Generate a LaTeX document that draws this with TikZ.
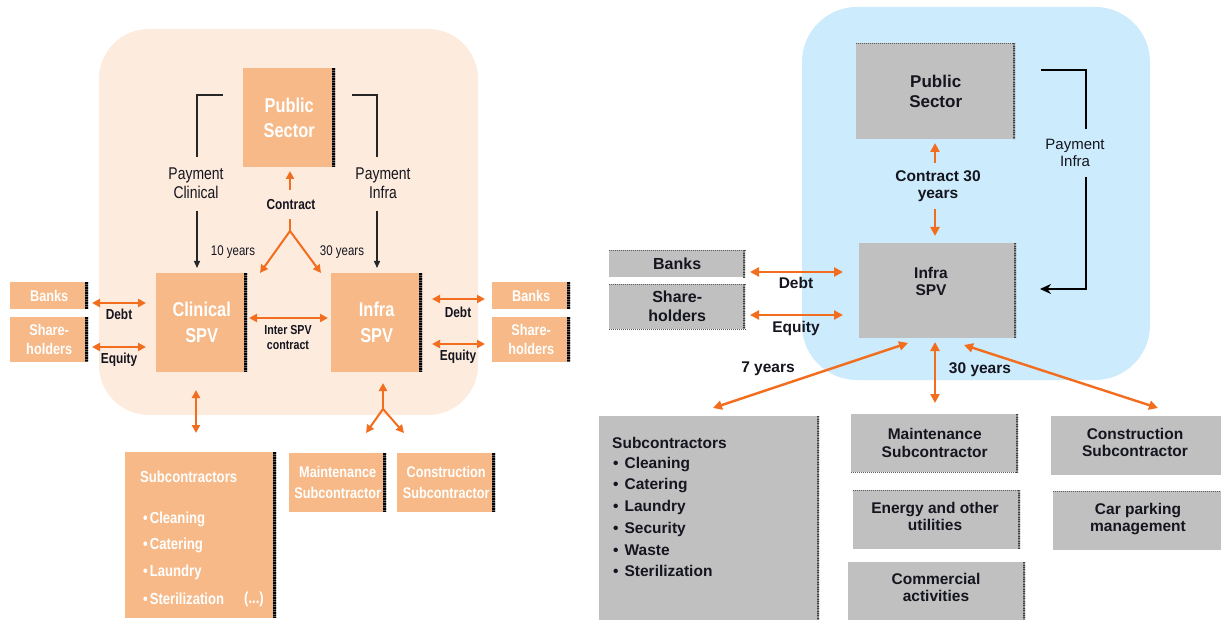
\documentclass[tikz,border=0pt]{standalone}
\usepackage{fontspec}
\setmainfont{Liberation Sans}
\newfontfamily\nfont[FakeStretch=0.82]{Liberation Sans}
\usetikzlibrary{arrows.meta}
\definecolor{peachbg}{HTML}{FDEBDD}
\definecolor{peachbox}{HTML}{F6B987}
\definecolor{oline}{HTML}{F26E1E}
\definecolor{bluebg}{HTML}{CCEBFC}
\definecolor{graybox}{HTML}{C0C0C0}
\definecolor{textdark}{HTML}{15151F}
\newcommand{\fsz}[2]{\fontsize{#1}{#2}\selectfont}
\tikzset{
  x=1pt, y=-1pt,
  obox/.style={fill=peachbox, anchor=north west, inner sep=0pt, align=center,
    text=white, font=\nfont\bfseries,
    path picture={
      \draw[black!65, line width=6pt] (path picture bounding box.north east) -- (path picture bounding box.south east);
      \draw[black, line width=6pt, dash pattern=on 1.5pt off 1pt] (path picture bounding box.north east) -- (path picture bounding box.south east);}},
  gbox/.style={fill=graybox, anchor=north west, inner sep=0pt, align=center,
    text=textdark, font=\bfseries,
    path picture={
      \draw[black!45, line width=5pt] (path picture bounding box.north east) -- (path picture bounding box.south east);
      \draw[black!75, line width=5pt, dash pattern=on 0.8pt off 1.6pt] (path picture bounding box.north east) -- (path picture bounding box.south east);}},
  dotl/.style={draw=black!65, line width=0.9pt, dash pattern=on 1pt off 1pt},
  otip/.tip={Triangle[length=8pt,width=8pt]},
  oarr/.style={draw=oline, line width=2pt, -otip},
  oarrb/.style={draw=oline, line width=2pt, otip-otip},
  rarr/.style={draw=oline, line width=2.4pt, -{Triangle[length=9pt,width=9pt]}},
  rarrb/.style={draw=oline, line width=2.4pt, {Triangle[length=9pt,width=9pt]}-{Triangle[length=9pt,width=9pt]}},
  oseg/.style={draw=oline, line width=2pt},
  bline/.style={draw=black!85, line width=1.4pt},
  barr/.style={draw=black!85, line width=1.4pt, -{Triangle[length=7pt,width=6pt]}},
  rbline/.style={draw=black, line width=2.2pt},
  rbarr/.style={draw=black, line width=2.2pt, -{Stealth[length=11pt,width=10pt]}},
  nlab/.style={text=textdark, inner sep=0pt, align=center, font=\nfont\bfseries\fsz{14.5}{17}},
  nreg/.style={text=textdark, inner sep=0pt, align=center, font=\nfont\fsz{17}{19}},
  rlab/.style={text=textdark, inner sep=0pt, align=center, font=\bfseries\fsz{15.5}{17}},
  wtxt/.style={text=white, inner sep=0pt, anchor=west, font=\nfont\bfseries\fsz{16}{18}},
  dtxt/.style={text=textdark, inner sep=0pt, anchor=west, font=\bfseries\fsz{15.5}{17}},
}
\begin{document}
\begin{tikzpicture}
\useasboundingbox (0,0) rectangle (1221,620);
\clip (0,0) rectangle (1221,620);
\fill[white] (0,0) rectangle (1221,620);

% ---------------- Clinical / Infra split model ----------------
\fill[peachbg, rounded corners=50pt] (99,29) rectangle (478,415);

\node[obox, minimum width=92pt, minimum height=99pt, font=\nfont\bfseries\fsz{20}{25}] (psL) at (243,68) {Public\\Sector};
\node[obox, minimum width=91pt, minimum height=99pt, font=\nfont\bfseries\fsz{20}{26}] (clin) at (156,273) {Clinical\\SPV};
\node[obox, minimum width=91pt, minimum height=99pt, font=\nfont\bfseries\fsz{20}{26}] (infL) at (331,273) {Infra\\SPV};
\node[obox, minimum width=78pt, minimum height=27pt, font=\nfont\bfseries\fsz{15.5}{19}] (bankL) at (10,282) {Banks};
\node[obox, minimum width=78pt, minimum height=45pt, font=\nfont\bfseries\fsz{15.5}{19}] (shL) at (10,317) {Share-\\holders};
\node[obox, minimum width=78pt, minimum height=27pt, font=\nfont\bfseries\fsz{15.5}{19}] (bankLr) at (492,282) {Banks};
\node[obox, minimum width=78pt, minimum height=45pt, font=\nfont\bfseries\fsz{15.5}{19}] (shLr) at (492,317) {Share-\\holders};
\node[obox, minimum width=151pt, minimum height=166pt] (subL) at (125,452) {};
\node[obox, minimum width=97pt, minimum height=59pt, font=\nfont\bfseries\fsz{15.5}{21}] (mainL) at (289,453) {Maintenance\\Subcontractor};
\node[obox, minimum width=98pt, minimum height=59pt, font=\nfont\bfseries\fsz{15.5}{21}] (consL) at (397,453) {Construction\\Subcontractor};

% subcontractor list
\node[wtxt] (subLt) at (140,477) {Subcontractors};
\node[wtxt] (subL1) at (143,519) {\textbullet\hspace{2pt}Cleaning};
\node[wtxt] (subL2) at (143,545) {\textbullet\hspace{2pt}Catering};
\node[wtxt] (subL3) at (143,572) {\textbullet\hspace{2pt}Laundry};
\node[wtxt] (subL4) at (143,599) {\textbullet\hspace{2pt}Sterilization};
\node[wtxt, anchor=center] (subL5) at (254,599) {(...)};

% payments
\coordinate (pc0) at (223,95);
\coordinate (pc1) at (197,157);
\coordinate (pc2) at (197,211);
\coordinate (pc3) at (197,268);
\draw[bline] (pc0) -| (pc1);
\node[nreg] (pcl) at (196,183) {Payment\\Clinical};
\draw[barr] (pc2) -- (pc3);
\coordinate (pi0) at (352,95);
\coordinate (pi1) at (377,157);
\coordinate (pi2) at (377,211);
\coordinate (pi3) at (377,268);
\draw[bline] (pi0) -| (pi1);
\node[nreg] (pil) at (383,183) {Payment\\Infra};
\draw[barr] (pi2) -- (pi3);

% contract fork
\coordinate (ct0) at (290,190);
\coordinate (ct1) at (290,171);
\draw[oarr] (ct0) -- (ct1);
\node[nlab] (ctl) at (291,205) {Contract};
\coordinate (cf0) at (290,219);
\coordinate (cf1) at (290,231);
\coordinate (cf2) at (260,273);
\coordinate (cf3) at (321,273);
\draw[oseg] (cf0) -- (cf1);
\draw[oarr] (cf1) -- (cf2);
\draw[oarr] (cf1) -- (cf3);
\node[text=textdark, inner sep=0pt, font=\nfont\fsz{14}{16}] (y10) at (233,252) {10 years};
\node[text=textdark, inner sep=0pt, font=\nfont\fsz{14}{16}] (y30) at (342,252) {30 years};

% finance
\coordinate (dl0) at (92,303);
\coordinate (dl1) at (146,303);
\draw[oarrb] (dl0) -- (dl1);
\node[nlab] (dlt) at (119,314) {Debt};
\coordinate (el0) at (92,347);
\coordinate (el1) at (146,347);
\draw[oarrb] (el0) -- (el1);
\node[nlab] (elt) at (119,360) {Equity};
\coordinate (dr0) at (432,299);
\coordinate (dr1) at (485,299);
\draw[oarrb] (dr0) -- (dr1);
\node[nlab] (drt) at (458,312) {Debt};
\coordinate (er0) at (432,344);
\coordinate (er1) at (485,344);
\draw[oarrb] (er0) -- (er1);
\node[nlab] (ert) at (458,357) {Equity};

% inter SPV contract
\coordinate (is0) at (249,318);
\coordinate (is1) at (328,318);
\draw[oarrb] (is0) -- (is1);
\node[nlab, font=\nfont\bfseries\fsz{13}{15}] (ist) at (288,338) {Inter SPV\\contract};

% to subcontractors
\coordinate (sc0) at (196,390);
\coordinate (sc1) at (196,433);
\draw[oarrb] (sc0) -- (sc1);
\coordinate (sf0) at (383,383);
\coordinate (sf1) at (383,409);
\coordinate (sf2) at (366,433);
\coordinate (sf3) at (404,433);
\draw[oarr] (sf1) -- (sf0);
\draw[oarr] (sf1) -- (sf2);
\draw[oarr] (sf1) -- (sf3);

% ---------------- Single Infra SPV model ----------------
\fill[bluebg, rounded corners=55pt] (802,7) rectangle (1150,380);

\node[gbox, minimum width=159pt, minimum height=96pt, font=\bfseries\fsz{17}{20}] (psR) at (856,43) {Public\\Sector};
\draw[dotl] (psR.north west) -- (psR.north east);
\node[gbox, minimum width=157pt, minimum height=95pt] (spvR) at (859,243) {};
\node[rlab] (spvRt) at (931,281) {Infra\\SPV};
\node[gbox, minimum width=136pt, minimum height=27pt, font=\bfseries\fsz{16}{19}] (bankR) at (609,250) {Banks};
\draw[dotl] (bankR.north west) -- (bankR.north east);
\node[gbox, minimum width=136pt, minimum height=45pt, font=\bfseries\fsz{16}{19}] (shR) at (609,284) {Share-\\holders};
\draw[dotl] (shR.north west) -- (shR.north east);
\draw[dotl] (shR.south west) -- (shR.south east);

\node[gbox, minimum width=220pt, minimum height=214pt] (subR) at (599,416) {};
\node[dtxt] (subRt) at (612,443) {Subcontractors};
\node[dtxt] (subR1) at (613,465) {\textbullet\hspace{6pt}Cleaning};
\node[dtxt] (subR2) at (613,486) {\textbullet\hspace{6pt}Catering};
\node[dtxt] (subR3) at (613,507) {\textbullet\hspace{6pt}Laundry};
\node[dtxt] (subR4) at (613,529) {\textbullet\hspace{6pt}Security};
\node[dtxt] (subR5) at (613,550) {\textbullet\hspace{6pt}Waste};
\node[dtxt] (subR6) at (613,571) {\textbullet\hspace{6pt}Sterilization};

\node[gbox, minimum width=167pt, minimum height=58pt, font=\bfseries\fsz{15.5}{18}] (mainR) at (851,414) {Maintenance\\Subcontractor};
\draw[dotl] (mainR.south west) -- (mainR.south east);
\node[gbox, minimum width=167pt, minimum height=59pt] (enR) at (853,490) {};
\draw[dotl] (enR.north west) -- (enR.north east);
\node[rlab] (enRt) at (935,516) {Energy and other\\utilities};
\node[gbox, minimum width=177pt, minimum height=70pt] (comR) at (848,562) {};
\node[rlab] (comRt) at (936,587) {Commercial\\activities};
\node[gbox, minimum width=200pt, minimum height=59pt] (conR) at (1051,416) {};
\node[rlab] (conRt) at (1135,442) {Construction\\Subcontractor};
\node[gbox, minimum width=200pt, minimum height=59pt] (carR) at (1053,491) {};
\draw[dotl] (carR.north west) -- (carR.north east);
\node[rlab] (carRt) at (1138,519) {Car parking\\management};

% contract
\coordinate (rc0) at (935,163);
\coordinate (rc1) at (935,143);
\draw[rarr] (rc0) -- (rc1);
\node[rlab] (rct) at (938,186) {Contract 30\\years};
\coordinate (rc2) at (935,209);
\coordinate (rc3) at (935,236);
\draw[rarr] (rc2) -- (rc3);

% payment
\coordinate (rp0) at (1041,70);
\coordinate (rp1) at (1086,129);
\coordinate (rp2) at (1086,177);
\coordinate (rp3) at (1040,289);
\draw[rbline] (rp0) -| (rp1);
\node[text=textdark, inner sep=0pt, align=center, font=\fsz{15}{16.5}] (rpt) at (1075,153) {Payment\\Infra};
\draw[rbarr] (rp2) |- (rp3);

% finance
\coordinate (rd0) at (750,272);
\coordinate (rd1) at (843,272);
\draw[rarrb] (rd0) -- (rd1);
\node[rlab] (rdt) at (796,283) {Debt};
\coordinate (re0) at (750,315);
\coordinate (re1) at (843,315);
\draw[rarrb] (re0) -- (re1);
\node[rlab] (ret) at (796,328) {Equity};

% subcontract arrows
\coordinate (ra0) at (908,343);
\coordinate (ra1) at (713,408);
\draw[rarrb] (ra0) -- (ra1);
\node[rlab] (ra7) at (768,369) {7 years};
\coordinate (rv0) at (935,342);
\coordinate (rv1) at (935,403);
\draw[rarrb] (rv0) -- (rv1);
\node[rlab] (ra30) at (980,370) {30 years};
\coordinate (rb0) at (964,345);
\coordinate (rb1) at (1158,408);
\draw[rarrb] (rb0) -- (rb1);
\end{tikzpicture}
\end{document}
